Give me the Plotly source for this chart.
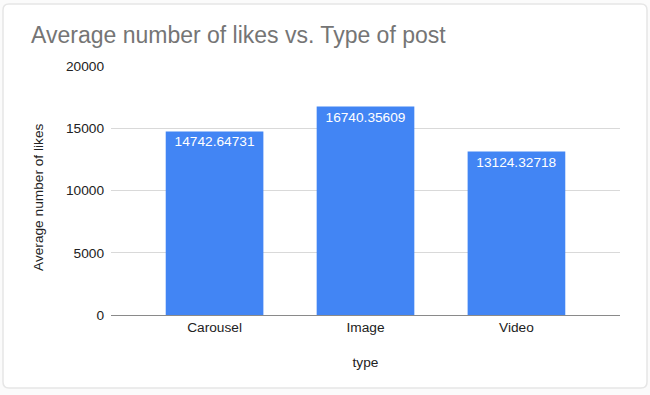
import plotly.graph_objects as go

categories = ["Carousel", "Image", "Video"]
avg_likes = [14742.64731, 16740.35609, 13124.32718]
y_ticks = [0, 5000, 10000, 15000, 20000]
y_tick_labels = ["0", "5000", "10000", "15000", "20000"]
labels = [f"{v:.5f}" for v in avg_likes]

W, H = 650, 395
L, R, T, B = 111, 30, 66, 80
FONT = "Liberation Sans, Arial, sans-serif"

fig = go.Figure(go.Bar(
    x=categories, y=avg_likes, text=labels,
    textposition="inside", insidetextanchor="end",
    textfont=dict(color="white", size=13.7, family=FONT),
    marker=dict(color="#4285F4", line=dict(width=0)),
    width=0.647, hoverinfo="skip",
))

# rounded border around the whole chart (paper coordinates from pixels)
pw, ph = W - L - R, H - T - B
def px(x): return (x - L) / pw
def py(y): return (H - B - y) / ph
x0, x1, y0, y1, r = 3, 647, 4, 388, 6
path = (f"M {px(x0+r)} {py(y0)} L {px(x1-r)} {py(y0)} Q {px(x1)} {py(y0)} {px(x1)} {py(y0+r)} "
        f"L {px(x1)} {py(y1-r)} Q {px(x1)} {py(y1)} {px(x1-r)} {py(y1)} "
        f"L {px(x0+r)} {py(y1)} Q {px(x0)} {py(y1)} {px(x0)} {py(y1-r)} "
        f"L {px(x0)} {py(y0+r)} Q {px(x0)} {py(y0)} {px(x0+r)} {py(y0)} Z")
fig.add_shape(type="path", path=path, xref="paper", yref="paper",
              line=dict(color="#e6e6e6", width=1.5), fillcolor="white", layer="below")

# y-axis title (placed slightly below centre, as in the reference)
fig.add_annotation(text="Average number of likes", textangle=-90,
                   xref="paper", yref="paper", x=px(38), y=py(197),
                   xanchor="center", yanchor="middle", showarrow=False,
                   font=dict(size=13.7, color="#222222", family=FONT))

fig.update_layout(
    width=W, height=H,
    margin=dict(l=L, r=R, t=T, b=B, autoexpand=False),
    paper_bgcolor="#fbfbfb", plot_bgcolor="white",
    font=dict(family=FONT, size=13.7, color="#222222"),
    title=dict(text="Average number of likes vs. Type of post",
               font=dict(size=23, color="#757575", family=FONT),
               x=31/W, xanchor="left", xref="container",
               y=1-35/H, yanchor="middle", yref="container", automargin=False),
    showlegend=False,
    xaxis=dict(range=[-0.686, 2.686], showgrid=False, showline=False, zeroline=False,
               ticks="", ticklabelstandoff=2, automargin=False,
               tickfont=dict(size=13.7, color="#222222"),
               title=dict(text="type", standoff=23, font=dict(size=13.7, color="#222222"))),
    yaxis=dict(range=[0, 20000], tickvals=y_ticks, ticktext=y_tick_labels,
               showgrid=True, gridcolor="#d9d9d9",
               gridwidth=1, zeroline=True, zerolinecolor="#8a8a8a", zerolinewidth=1,
               showline=False, ticks="", ticklabelstandoff=6, automargin=False,
               tickfont=dict(size=13.7, color="#222222")),
)

fig.write_html("out.html", config={"displayModeBar": False},
               post_script="document.body.style.margin='0';")
